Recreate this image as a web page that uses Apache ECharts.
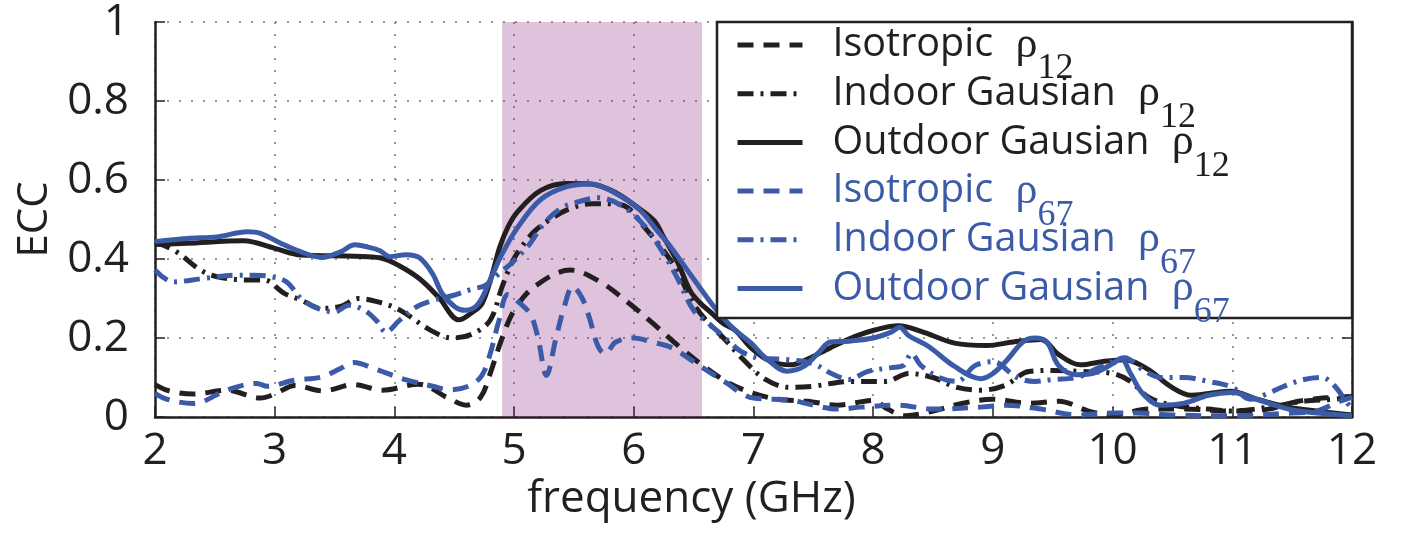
<!DOCTYPE html>
<html><head><meta charset="utf-8">
<script src="https://cdn.jsdelivr.net/npm/echarts@6/dist/echarts.min.js"></script>
<style>html,body{margin:0;padding:0;background:#fff}#c{width:1403px;height:540px}</style>
</head><body><div id="c"></div>
<script>
// ---------------- data ----------------
const seriesNames = ['Isotropic ρ12', 'Indoor Gausian ρ12', 'Outdoor Gausian ρ12',
                     'Isotropic ρ67', 'Indoor Gausian ρ67', 'Outdoor Gausian ρ67'];
const legendBase = ['Isotropic', 'Indoor Gausian', 'Outdoor Gausian', 'Isotropic', 'Indoor Gausian', 'Outdoor Gausian'];
const legendSub = ['12', '12', '12', '67', '67', '67'];
const bandRange = [4.9, 6.57];   // shaded band, GHz

const isoP12F = [2.0, 2.12, 2.32, 2.6, 2.88, 3.0, 3.17, 3.4, 3.66, 3.9, 4.2, 4.45, 4.6, 4.72, 4.8, 4.9, 5.0, 5.17, 5.47, 5.72, 5.96, 6.16, 6.38, 6.6, 6.8, 7.0, 7.2, 7.45, 7.7, 8.0, 8.12, 8.27, 8.5, 8.75, 9.0, 9.3, 9.55, 9.8, 10.0, 10.3, 10.6, 11.0, 11.3, 11.55, 11.85, 12.0];
const isoP12V = [0.082, 0.066, 0.058, 0.068, 0.048, 0.058, 0.08, 0.066, 0.082, 0.068, 0.083, 0.048, 0.03, 0.05, 0.11, 0.2, 0.27, 0.33, 0.372, 0.342, 0.288, 0.237, 0.178, 0.125, 0.085, 0.06, 0.045, 0.04, 0.03, 0.042, 0.02, 0.003, 0.015, 0.035, 0.045, 0.035, 0.04, 0.015, 0.005, 0.02, 0.02, 0.015, 0.02, 0.04, 0.05, 0.052];

const inP12F = [2.0, 2.18, 2.38, 2.52, 2.77, 2.91, 3.08, 3.22, 3.39, 3.55, 3.7, 3.88, 4.05, 4.3, 4.48, 4.65, 4.8, 4.9, 4.98, 5.06, 5.17, 5.3, 5.47, 5.65, 5.83, 5.95, 6.09, 6.25, 6.36, 6.5, 6.63, 6.75, 6.9, 7.1, 7.3, 7.5, 7.8, 8.1, 8.3, 8.5, 8.7, 8.9, 9.1, 9.3, 9.5, 9.75, 10.0, 10.15, 10.3, 10.5, 10.8, 11.0, 11.3, 11.6, 11.85, 12.0];
const inP12V = [0.444, 0.418, 0.372, 0.355, 0.347, 0.347, 0.313, 0.296, 0.275, 0.28, 0.3, 0.29, 0.27, 0.22, 0.2, 0.21, 0.245, 0.33, 0.39, 0.43, 0.47, 0.5, 0.528, 0.54, 0.54, 0.53, 0.48, 0.421, 0.371, 0.286, 0.236, 0.2, 0.15, 0.095, 0.075, 0.078, 0.09, 0.09, 0.11, 0.1, 0.075, 0.068, 0.08, 0.115, 0.118, 0.115, 0.11, 0.09, 0.05, 0.03, 0.02, 0.015, 0.025, 0.04, 0.045, 0.05];

const outP12F = [2.0, 2.27, 2.74, 3.0, 3.22, 3.67, 3.88, 4.04, 4.21, 4.37, 4.54, 4.65, 4.73, 4.81, 4.88, 4.95, 5.03, 5.22, 5.44, 5.64, 5.85, 6.03, 6.17, 6.25, 6.36, 6.47, 6.55, 6.65, 6.75, 6.85, 6.98, 7.14, 7.31, 7.44, 7.64, 7.85, 8.02, 8.21, 8.4, 8.68, 8.95, 9.17, 9.4, 9.55, 9.73, 9.93, 10.1, 10.3, 10.48, 10.66, 10.98, 11.22, 11.43, 11.73, 12.0];
const outP12V = [0.437, 0.44, 0.446, 0.427, 0.41, 0.407, 0.403, 0.383, 0.35, 0.303, 0.246, 0.265, 0.286, 0.354, 0.43, 0.482, 0.52, 0.573, 0.591, 0.59, 0.568, 0.531, 0.497, 0.455, 0.396, 0.32, 0.29, 0.263, 0.236, 0.219, 0.175, 0.141, 0.132, 0.145, 0.175, 0.204, 0.221, 0.231, 0.217, 0.187, 0.181, 0.19, 0.196, 0.158, 0.132, 0.141, 0.145, 0.12, 0.078, 0.055, 0.065, 0.044, 0.027, 0.014, 0.005];

const isoP67F = [2.0, 2.1, 2.32, 2.6, 2.85, 2.94, 3.16, 3.39, 3.55, 3.66, 3.85, 4.1, 4.32, 4.46, 4.62, 4.73, 4.8, 4.87, 4.95, 5.06, 5.14, 5.2, 5.27, 5.35, 5.42, 5.49, 5.57, 5.63, 5.7, 5.76, 5.85, 6.0, 6.15, 6.32, 6.5, 6.6, 6.78, 6.9, 7.0, 7.3, 7.5, 7.7, 7.9, 8.2, 8.5, 8.9, 9.1, 9.4, 9.7, 10.0, 10.2, 10.5, 11.0, 11.5, 11.7, 11.9, 12.0];
const isoP67V = [0.06, 0.045, 0.034, 0.068, 0.085, 0.078, 0.093, 0.101, 0.123, 0.138, 0.12, 0.094, 0.078, 0.069, 0.078, 0.105, 0.16, 0.24, 0.31, 0.285, 0.258, 0.2, 0.105, 0.2, 0.28, 0.33, 0.3, 0.25, 0.18, 0.16, 0.19, 0.2, 0.19, 0.175, 0.14, 0.12, 0.085, 0.06, 0.048, 0.043, 0.03, 0.02, 0.025, 0.03, 0.02, 0.025, 0.03, 0.02, 0.005, 0.01, 0.01, 0.005, 0.003, 0.01, 0.015, 0.04, 0.05];

const inP67F = [2.0, 2.15, 2.41, 2.69, 2.83, 2.97, 3.1, 3.22, 3.36, 3.5, 3.62, 3.75, 3.85, 3.93, 4.04, 4.18, 4.32, 4.48, 4.65, 4.76, 4.87, 4.98, 5.12, 5.25, 5.4, 5.54, 5.7, 5.9, 6.1, 6.25, 6.36, 6.5, 6.63, 6.8, 6.9, 7.05, 7.3, 7.5, 7.65, 7.8, 7.95, 8.15, 8.25, 8.32, 8.4, 8.55, 8.7, 8.85, 9.0, 9.2, 9.35, 9.5, 9.7, 9.85, 10.0, 10.1, 10.25, 10.4, 10.6, 10.8, 11.0, 11.15, 11.3, 11.45, 11.6, 11.75, 11.85, 11.95, 12.0];
const inP67V = [0.372, 0.342, 0.351, 0.359, 0.359, 0.355, 0.342, 0.3, 0.275, 0.266, 0.283, 0.27, 0.244, 0.215, 0.244, 0.278, 0.295, 0.307, 0.324, 0.333, 0.362, 0.39, 0.434, 0.49, 0.53, 0.545, 0.555, 0.535, 0.48, 0.413, 0.354, 0.27, 0.236, 0.19, 0.165, 0.15, 0.145, 0.135, 0.11, 0.095, 0.115, 0.125, 0.13, 0.16, 0.13, 0.1, 0.09, 0.13, 0.14, 0.1, 0.09, 0.095, 0.1, 0.12, 0.14, 0.15, 0.12, 0.1, 0.1, 0.09, 0.075, 0.045, 0.06, 0.08, 0.095, 0.1, 0.08, 0.04, 0.02];

const outP67F = [2.0, 2.27, 2.52, 2.77, 2.88, 3.05, 3.22, 3.39, 3.55, 3.67, 3.78, 3.88, 3.96, 4.1, 4.21, 4.32, 4.4, 4.51, 4.59, 4.7, 4.81, 4.9, 5.03, 5.22, 5.44, 5.64, 5.85, 6.05, 6.2, 6.31, 6.47, 6.63, 6.74, 6.85, 6.98, 7.1, 7.28, 7.42, 7.55, 7.64, 7.8, 8.0, 8.15, 8.22, 8.3, 8.46, 8.68, 8.9, 9.0, 9.12, 9.25, 9.35, 9.45, 9.55, 9.7, 9.85, 10.0, 10.07, 10.15, 10.25, 10.4, 10.6, 10.8, 11.0, 11.2, 11.5, 11.8, 12.0];
const outP67V = [0.444, 0.452, 0.456, 0.469, 0.465, 0.44, 0.418, 0.404, 0.418, 0.436, 0.43, 0.421, 0.406, 0.411, 0.403, 0.362, 0.312, 0.278, 0.27, 0.286, 0.354, 0.413, 0.48, 0.55, 0.583, 0.59, 0.566, 0.524, 0.47, 0.43, 0.362, 0.295, 0.253, 0.219, 0.187, 0.15, 0.116, 0.128, 0.165, 0.19, 0.192, 0.2, 0.215, 0.227, 0.205, 0.179, 0.128, 0.097, 0.11, 0.145, 0.19, 0.2, 0.19, 0.13, 0.107, 0.112, 0.135, 0.148, 0.11, 0.06, 0.03, 0.035, 0.055, 0.062, 0.045, 0.018, 0.008, 0.003];

// ---------------- styling ----------------
const BLACK = '#231f20';
const BLUE = '#3b5ba9';
const FONT = 'Open Sans';
const dashIso = [16, 10];
const dashInd = [16, 7, 3, 7];
const LW = 5;

const pairs = (f, v) => f.map((x, i) => [x, v[i]]);
const fList = [isoP12F, inP12F, outP12F, isoP67F, inP67F, outP67F];
const vList = [isoP12V, inP12V, outP12V, isoP67V, inP67V, outP67V];
const colors = [BLACK, BLACK, BLACK, BLUE, BLUE, BLUE];
const types = [dashIso, dashInd, 'solid', dashIso, dashInd, 'solid'];

const series = seriesNames.map((name, i) => ({
  name, type: 'line', data: pairs(fList[i], vList[i]),
  showSymbol: false, symbol: 'none', smooth: 0.35, z: 2,
  lineStyle: { color: colors[i], width: LW, type: types[i], cap: 'butt' },
  itemStyle: { color: colors[i] }
}));
series.push({
  name: 'band', type: 'line', data: [], z: 4, silent: true,
  markArea: { silent: true, itemStyle: { color: 'rgba(128,16,120,0.25)' },
    data: [[{ xAxis: bandRange[0] }, { xAxis: bandRange[1] }]] }
});

function rich(c, k) {
  const r = {};
  r[k] = { fontFamily: FONT, fontSize: 39.5, color: c, lineHeight: 40, padding: [0, 0, 0, 25] };
  r[k + 'r'] = { fontFamily: 'Liberation Serif', fontSize: 44, color: c, padding: [0, 0, 0, 12] };
  r[k + 's'] = { fontFamily: 'Liberation Serif', fontSize: 36, color: c, padding: [48, 0, 0, 0] };
  return r;
}

const chart = echarts.init(document.getElementById('c'), null, { renderer: 'canvas' });
chart.setOption({
  animation: false,
  backgroundColor: '#fff',
  grid: { left: 155, right: 51, top: 22, bottom: 123, containLabel: false },
  xAxis: [{
    type: 'value', min: 2, max: 12, interval: 1,
    name: 'frequency (GHz)', nameLocation: 'middle', nameGap: 60,
    nameTextStyle: { fontFamily: FONT, fontSize: 44, color: BLACK, padding: [0, 124, 0, 0] },
    axisLine: { show: true, onZero: false, lineStyle: { color: BLACK, width: 2.5 } },
    axisTick: { show: true, inside: true, length: 10, lineStyle: { color: BLACK, width: 1.5 } },
    axisLabel: { fontFamily: FONT, fontSize: 44, color: BLACK, margin: 12 },
    splitLine: { show: true, lineStyle: { color: '#777', width: 1.5, type: [2, 10] } }
  }],
  yAxis: [{
    type: 'value', min: 0, max: 1, interval: 0.2,
    name: 'ECC', nameLocation: 'middle', nameGap: 99,
    nameTextStyle: { fontFamily: FONT, fontSize: 42, color: BLACK },
    axisLine: { show: true, onZero: false, lineStyle: { color: BLACK, width: 2.5 } },
    axisTick: { show: true, inside: true, length: 10, lineStyle: { color: BLACK, width: 1.5 } },
    axisLabel: { fontFamily: FONT, fontSize: 44, color: BLACK, margin: 26 },
    splitLine: { show: true, lineStyle: { color: '#777', width: 1.5, type: [2, 10] } }
  }, {
    type: 'value', min: 0, max: 1, interval: 0.2, position: 'right',
    axisLine: { show: true, onZero: false, lineStyle: { color: BLACK, width: 2.5 } },
    axisTick: { show: true, inside: true, length: 10, lineStyle: { color: BLACK, width: 1.5 } },
    axisLabel: { show: false }, splitLine: { show: false }
  }],
  graphic: [{
    type: 'rect', z: 10, silent: true,
    shape: { x: 717, y: 22, width: 635, height: 296 },
    style: { fill: '#fff', stroke: BLACK, lineWidth: 2.5 }
  }],
  legend: {
    z: 12, orient: 'vertical', left: 735, top: 23, padding: 0,
    itemWidth: 65, itemHeight: 14, itemGap: -15.3, selectedMode: false,
    itemStyle: { opacity: 0 },
    lineStyle: { width: LW },
    data: seriesNames,
    formatter: (name) => {
      const i = seriesNames.indexOf(name);
      const k = i < 3 ? 'k' : 'b';
      return '{' + k + '|' + legendBase[i] + ' }{' + k + 'r|ρ}{' + k + 's|' + legendSub[i] + '}';
    },
    textStyle: { fontFamily: FONT, fontSize: 39.5, color: BLACK,
      rich: Object.assign({}, rich(BLACK, 'k'), rich(BLUE, 'b')) }
  },
  series
});
</script></body></html>
